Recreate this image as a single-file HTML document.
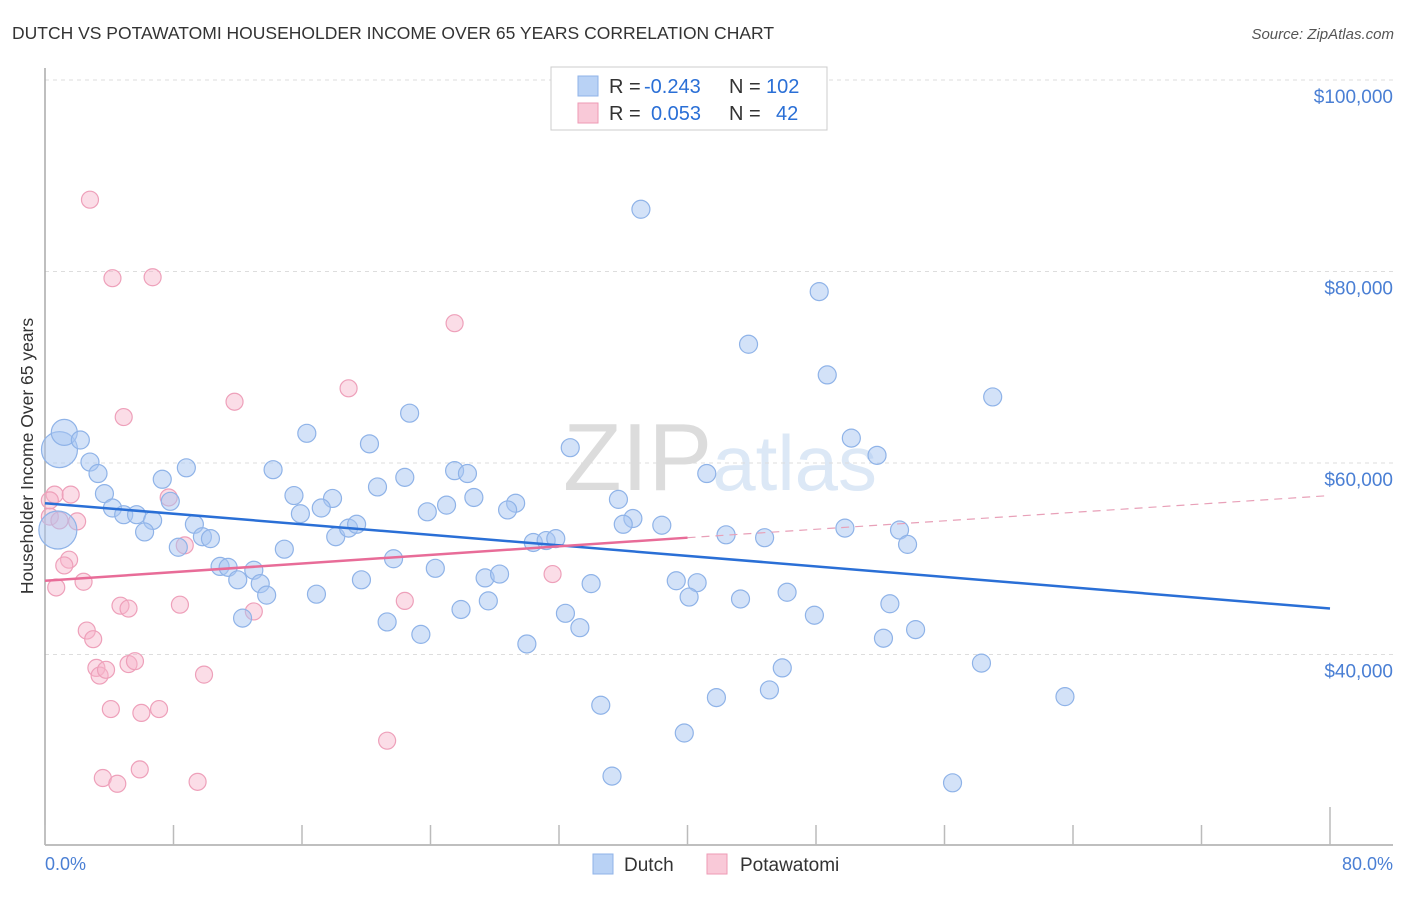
<!DOCTYPE html>
<html><head><meta charset="utf-8"><style>
body{margin:0;background:#fff;font-family:"Liberation Sans",sans-serif;}
svg text{font-family:"Liberation Sans",sans-serif;}
</style></head><body>
<svg id="c" width="1406" height="892" xmlns="http://www.w3.org/2000/svg">
<text x="12" y="39" font-size="17.5" fill="#333">DUTCH VS POTAWATOMI HOUSEHOLDER INCOME OVER 65 YEARS CORRELATION CHART</text>
<text x="1394" y="39" font-size="15" fill="#555" font-style="italic" text-anchor="end">Source: ZipAtlas.com</text>
<text x="720" y="490" font-size="96" fill="#e4e4e4" text-anchor="middle" font-family="Liberation Serif"><tspan fill="#dcdcdc">ZIP</tspan><tspan fill="#dce8f6" font-family="Liberation Sans" font-size="78">atlas</tspan></text>
<g id="grid"></g>
<line x1="45" y1="68" x2="45" y2="845" stroke="#aaa" stroke-width="1.5"/>
<line x1="45" y1="845" x2="1393" y2="845" stroke="#aaa" stroke-width="1.5"/>
<g id="ticks"></g>
<text transform="translate(33,456) rotate(-90)" font-size="17.5" fill="#333" text-anchor="middle">Householder Income Over 65 years</text>
<text x="45" y="870" font-size="18" fill="#4a7fd4">0.0%</text>
<text x="1393" y="870" font-size="18" fill="#4a7fd4" text-anchor="end">80.0%</text>
<g id="pts"></g>
<g id="lines"></g>
<g>
<rect x="551" y="67" width="276" height="63" fill="#fff" stroke="#ccc"/>
<rect x="578" y="76" width="20" height="20" fill="#b9d2f5" stroke="#8fb3e8"/>
<rect x="578" y="103" width="20" height="20" fill="#f9c9d8" stroke="#ee9ab5"/>
<text x="609" y="93" font-size="20" fill="#333">R =</text>
<text x="644" y="93" font-size="20" fill="#2a6fd6">-0.243</text>
<text x="729" y="93" font-size="20" fill="#333">N =</text>
<text x="766" y="93" font-size="20" fill="#2a6fd6">102</text>
<text x="609" y="120" font-size="20" fill="#333">R =</text>
<text x="651" y="120" font-size="20" fill="#2a6fd6">0.053</text>
<text x="729" y="120" font-size="20" fill="#333">N =</text>
<text x="776" y="120" font-size="20" fill="#2a6fd6">42</text>
</g>
<g>
<rect x="593" y="854" width="20" height="20" fill="#b9d2f5" stroke="#8fb3e8"/>
<text x="624" y="871" font-size="19" fill="#333">Dutch</text>
<rect x="707" y="854" width="20" height="20" fill="#f9c9d8" stroke="#ee9ab5"/>
<text x="740" y="871" font-size="19" fill="#333">Potawatomi</text>
</g>
</svg>
<script>
const yTicks=[40,60,80,100];
const yTickLabels=["$40,000","$60,000","$80,000","$100,000"];
const xTicks=[0,8,16,24,32,40,48,56,64,72,80];
const dutchX=[37.1,48.2,43.8,48.7,59.0,22.7,50.2,16.3,20.2,32.7,51.8,0.9,1.2,2.2,2.8,3.3,8.8,14.2,25.5,26.3,22.4,20.7,7.3,41.2,3.7,15.5,17.9,26.7,29.3,35.7,7.8,4.2,17.2,25.0,15.9,23.8,28.8,4.9,5.7,6.7,9.3,6.2,9.8,10.3,8.3,18.1,18.9,19.4,36.6,36.0,38.4,30.4,31.2,31.8,42.4,44.8,49.8,53.2,53.7,14.9,10.9,11.4,13.0,21.7,24.3,12.0,13.4,13.8,16.9,19.7,27.4,28.3,34.0,39.3,40.6,40.1,43.3,46.2,25.9,27.6,32.4,52.6,12.3,21.3,23.4,33.3,47.9,52.2,54.2,30.0,45.9,58.3,34.6,41.8,45.1,63.5,39.8,35.3,56.5,0.8];
const dutchY=[86.5,77.9,72.4,69.2,66.9,65.2,62.6,63.1,62.0,61.6,60.8,61.4,63.2,62.4,60.1,58.9,59.5,59.3,59.2,58.9,58.5,57.5,58.3,58.9,56.8,56.6,56.3,56.4,55.8,56.2,56.0,55.3,55.3,55.6,54.7,54.9,55.1,54.6,54.6,54.0,53.6,52.8,52.3,52.1,51.2,52.3,53.2,53.6,54.2,53.6,53.5,51.7,51.9,52.1,52.5,52.2,53.2,53.0,51.5,51.0,49.2,49.1,48.8,50.0,49.0,47.8,47.4,46.2,46.3,47.8,48.0,48.4,47.4,47.7,47.5,46.0,45.8,46.5,44.7,45.6,44.3,45.3,43.8,43.4,42.1,42.8,44.1,41.7,42.6,41.1,38.6,39.1,34.7,35.5,36.3,35.6,31.8,27.3,26.6,53.0];
const dutchR=[9,9,9,9,9,9,9,9,9,9,9,18,13,9,9,9,9,9,9,9,9,9,9,9,9,9,9,9,9,9,9,9,9,9,9,9,9,9,9,9,9,9,9,9,9,9,9,9,9,9,9,9,9,9,9,9,9,9,9,9,9,9,9,9,9,9,9,9,9,9,9,9,9,9,9,9,9,9,9,9,9,9,9,9,9,9,9,9,9,9,9,9,9,9,9,9,9,9,9,19];
const potX=[2.8,4.2,6.7,25.5,18.9,11.8,4.9,0.6,1.6,7.7,2.0,0.3,0.9,8.7,1.5,1.2,2.4,0.7,4.7,5.2,8.4,13.0,22.4,31.6,2.6,3.0,3.2,3.4,3.8,5.2,5.6,9.9,4.1,6.0,7.1,21.3,3.6,4.5,5.9,9.5,0.3];
const potY=[87.5,79.3,79.4,74.6,67.8,66.4,64.8,56.7,56.7,56.4,53.9,54.4,54.0,51.4,49.9,49.3,47.6,47.0,45.1,44.8,45.2,44.5,45.6,48.4,42.5,41.6,38.6,37.8,38.4,39.0,39.3,37.9,34.3,33.9,34.3,31.0,27.1,26.5,28.0,26.7,56.1];
const dutchTrendX=[0,80];
const dutchTrendY=[55.8,44.8];
const potTrendX=[0,40,80];
const potTrendY=[47.7,52.2,56.6];
const NS="http://www.w3.org/2000/svg";
const xs=v=>45+v*1285/80;
const ys=v=>80+(100-v)*191.5/20;
function mk(t,a,p){const e=document.createElementNS(NS,t);for(const k in a)e.setAttribute(k,a[k]);p.appendChild(e);return e;}
const grid=document.getElementById('grid');
yTicks.forEach((t,i)=>{
 const l=mk('line',{x1:45,x2:1393,y1:ys(t),y2:ys(t),stroke:'#ddd','stroke-dasharray':'4,4'},grid);
 
 
 const tx=mk('text',{x:1393,y:ys(t)+23,'font-size':19,fill:'#4a7fd4','text-anchor':'end'},grid);
 tx.textContent=yTickLabels[i];
 
 
});
const ticks=document.getElementById('ticks');
xTicks.forEach((t,i)=>{
 const h=(i===xTicks.length-1)?38:20;
 const l=mk('line',{x1:xs(t),x2:xs(t),y1:845-h,y2:845,stroke:'#bbb','stroke-width':1.5},ticks);
 
 
});
const pts=document.getElementById('pts');
potX.forEach((x,i)=>{
 const c=mk('circle',{cx:xs(x),cy:ys(potY[i]),r:8.5,fill:'rgba(246,180,202,0.45)',stroke:'#eea0ba','stroke-width':1.2},pts);
 
 
});
dutchX.forEach((x,i)=>{
 const c=mk('circle',{cx:xs(x),cy:ys(dutchY[i]),r:dutchR[i],fill:'rgba(168,198,242,0.5)',stroke:'#8fb3e8','stroke-width':1.2},pts);
 
 
});
const lines=document.getElementById('lines');
const bl=mk('line',{x1:xs(dutchTrendX[0]),y1:ys(dutchTrendY[0]),x2:xs(dutchTrendX[1]),y2:ys(dutchTrendY[1]),stroke:'#2a6fd6','stroke-width':2.5},lines);


const pl=mk('line',{x1:xs(potTrendX[0]),y1:ys(potTrendY[0]),x2:xs(potTrendX[1]),y2:ys(potTrendY[1]),stroke:'#e86c98','stroke-width':2.5},lines);


const pd=mk('line',{x1:xs(potTrendX[1]),y1:ys(potTrendY[1]),x2:xs(potTrendX[2]),y2:ys(potTrendY[2]),stroke:'#e8a0b8','stroke-width':1.2,'stroke-dasharray':'8,6'},lines);


</script>
</body></html>
